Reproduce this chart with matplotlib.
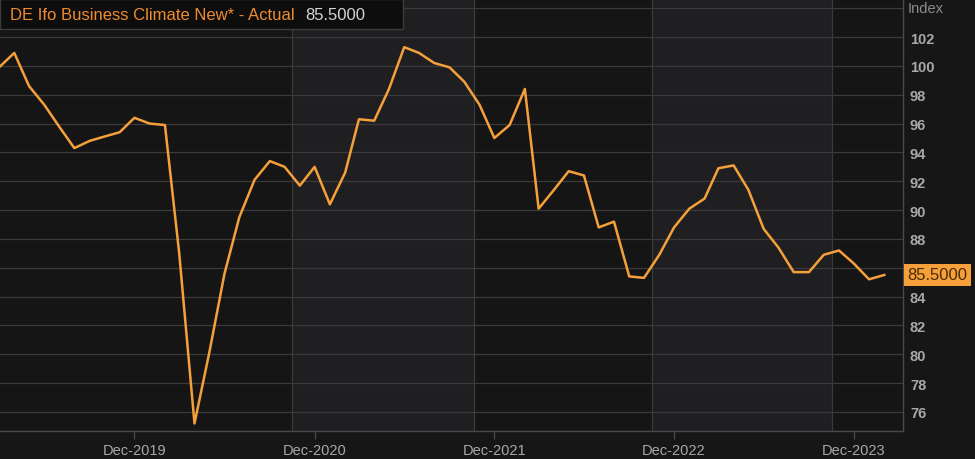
import numpy as np
import pandas as pd
import matplotlib
matplotlib.use('Agg')
import matplotlib.pyplot as plt
import matplotlib.dates as mdates
from matplotlib.patches import Rectangle

plt.rcParams['font.family'] = ['Liberation Sans', 'DejaVu Sans']

# monthly Ifo index, Mar 2019 .. Feb 2024
months = pd.date_range('2019-03-01', periods=60, freq='MS')
ifo = [99.9, 100.9, 98.6, 97.3, 95.8, 94.3, 94.8, 95.1, 95.4, 96.4,
       96.0, 95.9, 87.0, 75.2, 80.1, 85.6, 89.5, 92.1, 93.4, 93.0,
       91.7, 93.0, 90.4, 92.6, 96.3, 96.2, 98.4, 101.3, 100.9, 100.2,
       99.9, 98.9, 97.3, 95.0, 95.9, 98.4, 90.1, 91.4, 92.7, 92.4,
       88.8, 89.2, 85.4, 85.3, 86.9, 88.8, 90.1, 90.8, 92.9, 93.1,
       91.4, 88.7, 87.4, 85.7, 85.7, 86.9, 87.2, 86.3, 85.2, 85.5]
last_value = 85.5
tick_dates = pd.to_datetime(['2019-12-01', '2020-12-01', '2021-12-01',
                             '2022-12-01', '2023-12-01'])
tick_labels = ['Dec-2019', 'Dec-2020', 'Dec-2021', 'Dec-2022', 'Dec-2023']
band_edges = pd.to_datetime(['2020-10-16', '2021-10-20', '2022-10-18',
                             '2023-10-18'])
y_ticks = list(range(76, 104, 2))

BG = '#161616'
DARK = '#161516'
LIGHT = '#1f1f21'
GRID = '#3a3a3a'
ORANGE = '#f5a03a'
TXT = '#a8a8a8'

fig = plt.figure(figsize=(9.75, 4.6), dpi=100, facecolor=BG)
ax = fig.add_axes([0, 28 / 460, 903 / 975, 432 / 460])
ax.set_facecolor(DARK)

x0 = months[0] + pd.Timedelta(days=2)
x1 = months[-1] + pd.Timedelta(days=38)
ax.set_xlim(x0, x1)
ax.set_ylim(74.68, 104.64)

# alternating shaded bands
edges = [x0] + list(band_edges) + [x1]
for k in range(len(edges) - 1):
    if k % 2 == 1:
        ax.axvspan(edges[k], edges[k + 1], color=LIGHT, lw=0, zorder=0)
for e in band_edges:
    ax.axvline(e, color=GRID, lw=0.9, zorder=1)

for v in y_ticks + [104]:
    ax.axhline(v, color=GRID, lw=0.9, zorder=1)

ax.plot(months, ifo, color=ORANGE, lw=1.8, zorder=3)

for s in ['top', 'left']:
    ax.spines[s].set_visible(False)
for s in ['right', 'bottom']:
    ax.spines[s].set_color('#4a4a4a')
    ax.spines[s].set_linewidth(1.0)

# the value tag sits over the 86 label, so leave that one blank
ax.yaxis.tick_right()
ax.set_yticks(y_ticks)
ax.set_yticklabels(['' if v == 86 else str(v) for v in y_ticks])
ax.tick_params(axis='y', length=0, pad=5, labelsize=10.5, labelcolor=TXT)
for t in ax.get_yticklabels():
    t.set_fontweight('bold')

ax.set_xticks(tick_dates)
ax.set_xticklabels(tick_labels)
ax.tick_params(axis='x', length=6, width=0.9, color='#4a4a4a', pad=3,
               labelsize=10.5, labelcolor=TXT)

ax.text(1.005, 104.0, 'Index', transform=ax.get_yaxis_transform(),
        ha='left', va='center', color='#8c8c8c', fontsize=10.5)

# last value tag
ax.annotate(f'{last_value:.4f}', xy=(1.0, last_value),
            xycoords=ax.get_yaxis_transform(), xytext=(3, 0),
            textcoords='offset points', ha='left', va='center',
            fontsize=12, color='#4a2a05',
            bbox=dict(boxstyle='square,pad=0.22', fc=ORANGE, ec='none'))

# title box
fig.patches.append(Rectangle((0, 1 - 30 / 460), 403 / 975, 30 / 460,
                             transform=fig.transFigure, fc='#0d0d0d',
                             ec='#3c3c3c', lw=1.0, zorder=5))
fig.text(10 / 975, 1 - 16 / 460, 'DE Ifo Business Climate New* - Actual',
         color='#f08c30', fontsize=12, va='center', ha='left', zorder=6)
fig.text(305 / 975, 1 - 16 / 460, f'{last_value:.4f}', color='#d4d4d4',
         fontsize=12, va='center', ha='left', zorder=6)

fig.savefig('out.png', dpi=100, facecolor=BG)
